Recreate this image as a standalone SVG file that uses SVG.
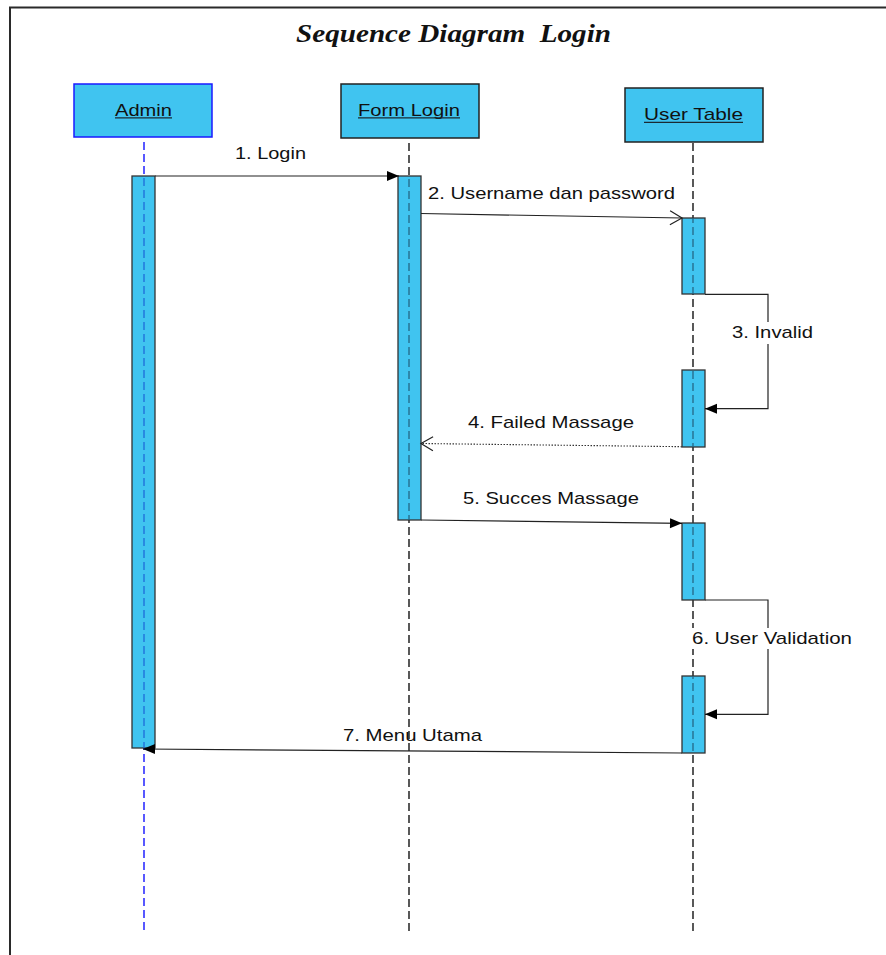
<svg xmlns="http://www.w3.org/2000/svg" width="886" height="955" viewBox="0 0 886 955">
<style>
.lbl{font-family:"Liberation Sans",Arial,sans-serif;font-size:17px;fill:#111}
.box{fill:#40c4f0;stroke:#222;stroke-width:1.5}
.bar{fill:#40c4f0;stroke:#333;stroke-width:1.3}
.life{fill:none;stroke:#000;stroke-width:1.3;stroke-dasharray:8 4}
.msg{fill:none;stroke:#222;stroke-width:1.2}
.ul{stroke:#1a2a33;stroke-width:1.3}
.title{font-family:"Liberation Serif","Times New Roman",serif;font-size:26px;font-weight:bold;font-style:italic;fill:#111;white-space:pre}
</style>
<defs>
<marker id="fill" markerUnits="userSpaceOnUse" markerWidth="13" markerHeight="11" refX="12" refY="5" orient="auto" overflow="visible">
<path d="M0,0 L12,5 L0,10 z" fill="#000"/>
</marker>
<marker id="open" markerUnits="userSpaceOnUse" markerWidth="13" markerHeight="15" refX="12" refY="7" orient="auto" overflow="visible">
<path d="M0,0 L12,7 L0,14" fill="none" stroke="#222" stroke-width="1.2"/>
</marker>
<clipPath id="barsA"><rect x="132" y="176" width="23" height="572"/></clipPath>
<clipPath id="barsF"><rect x="398" y="176" width="23" height="344"/></clipPath>
<clipPath id="barsU">
<rect x="682" y="218" width="23" height="76"/>
<rect x="682" y="370" width="23" height="77"/>
<rect x="682" y="523" width="23" height="77"/>
<rect x="682" y="676" width="23" height="77"/>
</clipPath>
</defs>
<rect x="0" y="0" width="886" height="955" fill="#fff"/>
<path d="M10,955 L10,7.5 L886,7.5" fill="none" stroke="#2a2a2a" stroke-width="2"/>
<text class="title" x="296" y="42" xml:space="preserve" textLength="315" lengthAdjust="spacingAndGlyphs">Sequence Diagram  Login</text>

<g id="admin">
<rect x="74" y="84" width="138" height="53" fill="#40c4f0" stroke="#1a1aff" stroke-width="1.5"/>
<text class="lbl" x="115" y="115.5" textLength="57" lengthAdjust="spacingAndGlyphs">Admin</text>
<line class="ul" x1="115" y1="117.8" x2="172" y2="117.8"/>
<line x1="144" y1="142" x2="144" y2="933" fill="none" stroke="#0000ff" stroke-width="1.3" stroke-dasharray="8 4"/>
<rect class="bar" x="132" y="176" width="23" height="572"/>
<line x1="144" y1="142" x2="144" y2="933" stroke="#1c64d8" stroke-width="1.2" stroke-dasharray="8 4" clip-path="url(#barsA)"/>
</g>

<g id="formlogin">
<rect class="box" x="341" y="84" width="138" height="54"/>
<text class="lbl" x="358" y="115.5" textLength="102" lengthAdjust="spacingAndGlyphs">Form Login</text>
<line class="ul" x1="358" y1="117.8" x2="460" y2="117.8"/>
<line class="life" x1="409" y1="143" x2="409" y2="933"/>
<rect class="bar" x="398" y="176" width="23" height="344"/>
<line x1="409" y1="143" x2="409" y2="933" stroke="#22607e" stroke-width="1.2" stroke-dasharray="8 4" clip-path="url(#barsF)"/>
</g>

<g id="usertable">
<rect class="box" x="625" y="88" width="138" height="54"/>
<text class="lbl" x="644" y="120" textLength="99" lengthAdjust="spacingAndGlyphs">User Table</text>
<line class="ul" x1="644" y1="122.3" x2="743" y2="122.3"/>
<line class="life" x1="693" y1="143" x2="693" y2="933"/>
<rect class="bar" x="682" y="218" width="23" height="76"/>
<rect class="bar" x="682" y="370" width="23" height="77"/>
<rect class="bar" x="682" y="523" width="23" height="77"/>
<rect class="bar" x="682" y="676" width="23" height="77"/>
<line x1="693" y1="143" x2="693" y2="933" stroke="#22607e" stroke-width="1.2" stroke-dasharray="8 4" clip-path="url(#barsU)"/>
</g>

<g id="connectors">
<line class="msg" x1="155" y1="176" x2="399" y2="176" marker-end="url(#fill)"/>
<text class="lbl" x="235" y="159" textLength="71" lengthAdjust="spacingAndGlyphs">1. Login</text>

<line class="msg" x1="421" y1="213.5" x2="682" y2="218" marker-end="url(#open)"/>
<text class="lbl" x="428" y="199" textLength="247" lengthAdjust="spacingAndGlyphs">2. Username dan password</text>

<polyline class="msg" points="705,294.3 768,294.3 768,408.7 705,408.7" marker-end="url(#fill)"/>
<rect x="730" y="322" width="86" height="22" fill="#fff"/>
<text class="lbl" x="732" y="338" textLength="81" lengthAdjust="spacingAndGlyphs">3. Invalid</text>

<line x1="682" y1="446.7" x2="421" y2="443.5" fill="none" stroke="#333" stroke-width="1.1" stroke-dasharray="1.5 1.5" marker-end="url(#open)"/>
<text class="lbl" x="468" y="427.7" textLength="166" lengthAdjust="spacingAndGlyphs">4. Failed Massage</text>

<line class="msg" x1="421" y1="520" x2="682" y2="523.3" marker-end="url(#fill)"/>
<text class="lbl" x="463" y="504" textLength="176" lengthAdjust="spacingAndGlyphs">5. Succes Massage</text>

<polyline class="msg" points="705,600 768,600 768,714.3 705,714.3" marker-end="url(#fill)"/>
<rect x="690" y="628" width="164" height="21" fill="#fff"/>
<text class="lbl" x="692" y="644" textLength="160" lengthAdjust="spacingAndGlyphs">6. User Validation</text>

<line class="msg" x1="682" y1="753" x2="143" y2="749" marker-end="url(#fill)"/>
<text class="lbl" x="343" y="741" textLength="139" lengthAdjust="spacingAndGlyphs">7. Menu Utama</text>
</g>
</svg>
